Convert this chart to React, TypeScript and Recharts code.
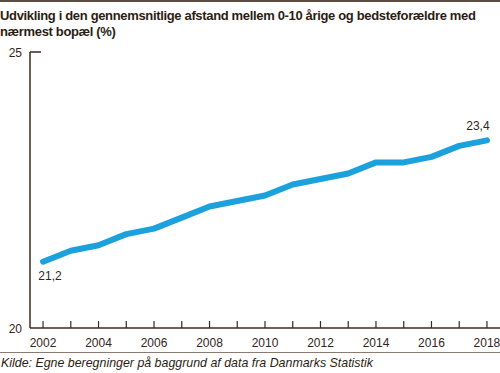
import { LineChart, Line, XAxis, YAxis } from 'recharts';

const years = [
  2002, 2003, 2004, 2005, 2006, 2007, 2008, 2009, 2010,
  2011, 2012, 2013, 2014, 2015, 2016, 2017, 2018,
];
const shares = [
  21.2, 21.4, 21.5, 21.7, 21.8, 22.0, 22.2, 22.3, 22.4,
  22.6, 22.7, 22.8, 23.0, 23.0, 23.1, 23.3, 23.4,
];
const yTicks = [20, 25];
const labelledYears = [2002, 2004, 2006, 2008, 2010, 2012, 2014, 2016, 2018];

const titleLines = [
  'Udvikling i den gennemsnitlige afstand mellem 0-10 årige og bedsteforældre med',
  'nærmest bopæl (%)',
];
const source = 'Kilde: Egne beregninger på baggrund af data fra Danmarks Statistik';

const data = years.map((year, i) => ({ year, value: shares[i] }));

const FONT = "'Liberation Sans', Arial, sans-serif";
const INK = '#33241b';
const AXIS = '#3b2a20';
const BLUE = '#1ba1dc';

// eslint-disable-next-line @typescript-eslint/no-explicit-any
const XTick = ({ x, y, payload }: any) => (
  <g>
    <line x1={x} x2={x} y1={y} y2={y - 7} stroke={AXIS} strokeWidth={1.2} />
    {labelledYears.includes(payload.value) && (
      <text x={x} y={y + 15} textAnchor="middle" dominantBaseline="central"
        fontSize={12} fontFamily={FONT} fill={INK}>
        {payload.value}
      </text>
    )}
  </g>
);

// eslint-disable-next-line @typescript-eslint/no-explicit-any
const YTick = ({ x, y, payload }: any) => (
  <g>
    {payload.value !== 20 && (
      <line x1={x} x2={x + 11} y1={y} y2={y} stroke={AXIS} strokeWidth={1.5} />
    )}
    <text x={x - 8} y={y + 1} textAnchor="end" dominantBaseline="central"
      fontSize={12} fontFamily={FONT} fill={INK}>
      {payload.value}
    </text>
  </g>
);

// eslint-disable-next-line @typescript-eslint/no-explicit-any
const EndLabel = ({ x, y, index, value }: any) => {
  const last = data.length - 1;
  if (index !== 0 && index !== last) return null;
  const first = index === 0;
  return (
    <text x={first ? x + 7 : x - 9} y={first ? y + 14 : y - 14}
      textAnchor="middle" dominantBaseline="central"
      fontSize={12} fontFamily={FONT} fill={INK}>
      {Number(value).toFixed(1).replace('.', ',')}
    </text>
  );
};

export default function App() {
  return (
    <div style={{ position: 'absolute', left: 0, top: 0, width: 500, height: 373, background: '#fff', fontFamily: FONT, overflow: 'hidden' }}>
      <div style={{ position: 'absolute', left: 0, top: 0, width: 500, height: 2, background: '#5d4c42' }} />
      <div style={{ position: 'absolute', left: 0, top: 8, fontSize: 13, lineHeight: '16px', fontWeight: 'bold', color: '#2b1d14', letterSpacing: -0.34, whiteSpace: 'nowrap' }}>
        {titleLines.map((line) => (
          <div key={line}>{line}</div>
        ))}
      </div>
      <LineChart width={500} height={373} data={data} margin={{ top: 52, right: 0, bottom: 0, left: 0 }}>
        <XAxis
          dataKey="year"
          type="number"
          domain={[2001.53, 2018.47]}
          ticks={years}
          height={45}
          tickSize={0}
          tickMargin={0}
          tickLine={false}
          tick={<XTick />}
          axisLine={{ stroke: AXIS, strokeWidth: 1.5 }}
          interval={0}
        />
        <YAxis
          domain={[20, 25]}
          ticks={yTicks}
          width={30}
          tickSize={0}
          tickMargin={0}
          tickLine={false}
          tick={<YTick />}
          axisLine={{ stroke: AXIS, strokeWidth: 1.5 }}
          interval={0}
        />
        <Line
          type="linear"
          dataKey="value"
          stroke={BLUE}
          strokeWidth={6}
          strokeLinecap="round"
          strokeLinejoin="round"
          dot={false}
          activeDot={false}
          label={<EndLabel />}
          isAnimationActive={false}
        />
      </LineChart>
      <div style={{ position: 'absolute', left: 0, top: 352, width: 500, height: 1, background: '#8a7a70' }} />
      <div style={{ position: 'absolute', left: 1, top: 356, fontSize: 12.4, lineHeight: '14px', fontStyle: 'italic', color: '#2b1d14', whiteSpace: 'nowrap' }}>
        {source}
      </div>
    </div>
  );
}
